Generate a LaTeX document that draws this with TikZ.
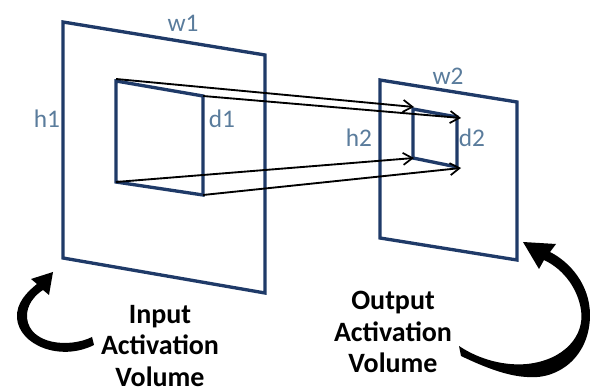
\documentclass[tikz,border=0pt]{standalone}
\usepackage{fontspec}
\setmainfont{Carlito}
\usetikzlibrary{arrows.meta}
\definecolor{navy}{HTML}{1F3A68}
\definecolor{lbl}{HTML}{5A7C9C}
\begin{document}
\begin{tikzpicture}[x=0.75pt,y=-0.75pt,
  plane/.style={draw=navy,line width=2.5pt,line join=miter},
  proj/.style={draw=black,line width=1.4pt,-{Straight Barb[length=7pt,width=9pt,line width=1.3pt]}},
  dimlbl/.style={text=lbl,font=\fontsize{19}{22}\selectfont,inner sep=0pt,anchor=base},
  title/.style={text=black,font=\fontsize{21}{23.5}\selectfont\bfseries,align=center,inner sep=0pt},
  bigarrow/.style={fill=black,draw=none}]
\useasboundingbox (0,0) rectangle (590,392);
% input plane
\coordinate (p1a) at (63,22);
\coordinate (p1b) at (265,55);
\coordinate (p1c) at (265,293);
\coordinate (p1d) at (63,258);
\draw[plane] (p1a) -- (p1b) -- (p1c) -- (p1d) -- cycle;
% input window
\coordinate (i1a) at (116,81);
\coordinate (i1b) at (203,96);
\coordinate (i1c) at (203,195);
\coordinate (i1d) at (116,182);
\draw[plane] (i1a) -- (i1b) -- (i1c) -- (i1d) -- cycle;
% output plane
\coordinate (p2a) at (380,80);
\coordinate (p2b) at (517,102);
\coordinate (p2c) at (517,260);
\coordinate (p2d) at (380,238);
\draw[plane] (p2a) -- (p2b) -- (p2c) -- (p2d) -- cycle;
% output window
\coordinate (o2a) at (413,109);
\coordinate (o2b) at (457,117);
\coordinate (o2c) at (457,167);
\coordinate (o2d) at (413,158);
\draw[plane] (o2a) -- (o2b) -- (o2c) -- (o2d) -- cycle;
% projection arrows
\coordinate (s1) at (116,79);
\coordinate (t1) at (414,107);
\coordinate (t2) at (461,118);
\coordinate (t3) at (414,158);
\coordinate (t4) at (461,168);
\draw[proj] (s1) -- (t1);
\draw[proj] (i1b) -- (t2);
\draw[proj] (i1d) -- (t3);
\draw[proj] (i1c) -- (t4);
% dimension labels
\node[dimlbl] (w1) at (183,32) {w1};
\node[dimlbl] (h1) at (47,128) {h1};
\node[dimlbl] (d1) at (222,128) {d1};
\node[dimlbl] (w2) at (448,85) {w2};
\node[dimlbl] (h2) at (359,147) {h2};
\node[dimlbl] (d2) at (472,147) {d2};
% titles
\node[title] (inp) at (160,346) {Input\\Activation\\Volume};
\node[title] (outp) at (393,332) {Output\\Activation\\Volume};
% curved arrows
\fill[bigarrow] (92,337) .. controls (70,348) and (30,345) .. (27,318)
  .. controls (26,305) and (35,295) .. (43,290) -- (49,295) -- (53,272) -- (31,279) -- (37,284)
  .. controls (27,292) and (16,303) .. (17,318)
  .. controls (19,345) and (60,362) .. (94,345) -- cycle;
\fill[bigarrow] (459,346) .. controls (480,360) and (505,366) .. (527,364)
  .. controls (565,360) and (585,335) .. (581,310)
  .. controls (578,290) and (565,270) .. (544,260) -- (539,269) -- (523,242) -- (556,244) -- (550,252)
  .. controls (570,262) and (590,285) .. (590,315)
  .. controls (590,355) and (560,380) .. (527,377)
  .. controls (505,376) and (480,365) .. (461,356) -- cycle;
\end{tikzpicture}
\end{document}
